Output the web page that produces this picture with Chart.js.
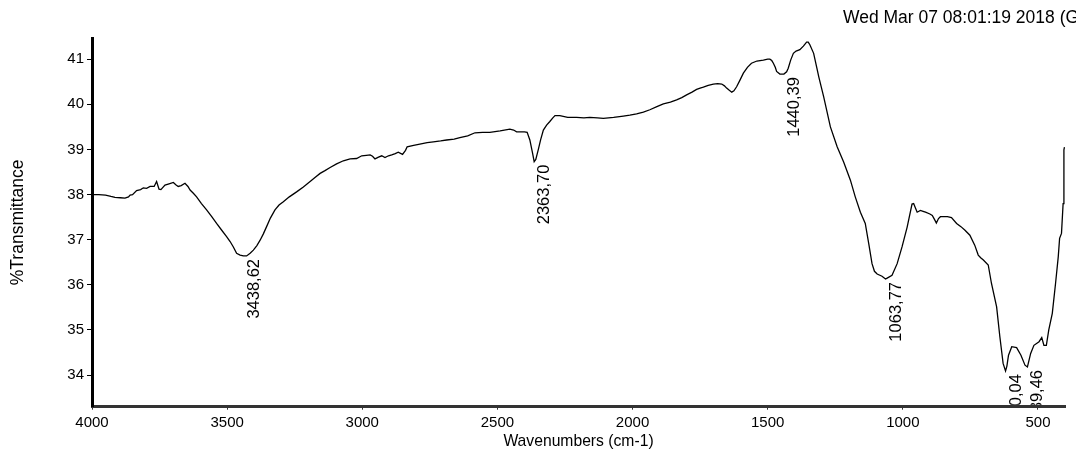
<!DOCTYPE html>
<html>
<head>
<meta charset="utf-8">
<script src="https://cdn.jsdelivr.net/npm/chart.js@4/dist/chart.umd.min.js"></script>
<style>
html,body{margin:0;padding:0;background:#fff;}
#wrap{width:1076px;height:458px;}
</style>
</head>
<body>
<div id="wrap"><canvas id="c" width="1076" height="458"></canvas></div>
<script>
// ---- data ----
const wavenumbers = [4000,3975,3950,3930,3915,3895,3878,3865,3859,3850,3835,3820,3810,3798,3785,3770,3761,3752,3745,3730,3715,3699,3690,3681,3670,3656,3645,3637,3625,3613,3595,3576,3557,3539,3520,3502,3489,3477,3465,3452,3440,3428,3415,3403,3390,3378,3366,3354,3340,3323,3308,3292,3270,3243,3218,3193,3175,3156,3138,3119,3095,3070,3045,3021,3002,2985,2971,2962,2953,2940,2928,2916,2903,2891,2878,2867,2851,2840,2834,2810,2787,2760,2737,2710,2688,2660,2639,2610,2583,2555,2528,2490,2454,2440,2429,2400,2390,2380,2370,2364,2358,2349,2340,2330,2318,2306,2295,2287,2269,2240,2207,2180,2158,2130,2108,2070,2034,2010,1985,1960,1936,1910,1886,1860,1837,1818,1800,1780,1763,1750,1738,1720,1701,1685,1670,1660,1652,1642,1633,1625,1615,1603,1590,1575,1560,1540,1516,1500,1492,1485,1479,1472,1467,1455,1440,1430,1424,1415,1405,1395,1381,1368,1356,1350,1344,1330,1318,1311,1293,1268,1243,1219,1194,1176,1157,1139,1126,1114,1105,1095,1077,1064,1058,1040,1021,1003,984,966,960,953,947,935,925,916,900,891,883,876,868,861,851,835,820,801,785,770,752,734,721,712,702,684,672,653,641,629,620,615,609,597,579,563,548,539,527,515,496,486,478,469,460,447,435,425,420,413,407,404,402];
const transmittance = [38.00,38.00,37.99,37.96,37.94,37.93,37.92,37.95,37.99,38.00,38.09,38.11,38.15,38.14,38.18,38.18,38.29,38.12,38.11,38.21,38.24,38.27,38.22,38.18,38.20,38.25,38.18,38.10,38.03,37.95,37.80,37.66,37.51,37.36,37.21,37.07,36.96,36.84,36.70,36.66,36.64,36.64,36.70,36.77,36.87,36.99,37.13,37.29,37.48,37.66,37.77,37.84,37.95,38.06,38.17,38.29,38.38,38.47,38.53,38.60,38.68,38.75,38.79,38.80,38.86,38.87,38.88,38.85,38.79,38.83,38.86,38.82,38.86,38.88,38.91,38.94,38.89,38.98,39.06,39.09,39.12,39.15,39.17,39.19,39.21,39.23,39.26,39.30,39.37,39.38,39.38,39.41,39.45,39.43,39.39,39.39,39.38,39.21,38.92,38.73,38.78,38.99,39.22,39.43,39.54,39.62,39.70,39.75,39.75,39.71,39.71,39.70,39.71,39.70,39.69,39.71,39.74,39.76,39.79,39.83,39.88,39.95,40.01,40.05,40.10,40.15,40.21,40.27,40.33,40.36,40.38,40.42,40.45,40.46,40.45,40.41,40.36,40.31,40.27,40.30,40.39,40.53,40.69,40.82,40.91,40.96,40.98,41.00,41.00,40.97,40.91,40.82,40.73,40.67,40.67,40.72,40.80,40.98,41.13,41.18,41.21,41.29,41.38,41.38,41.32,41.13,40.80,40.61,40.17,39.50,39.06,38.72,38.32,37.95,37.61,37.36,36.91,36.47,36.30,36.24,36.19,36.13,36.15,36.21,36.47,36.84,37.28,37.79,37.80,37.70,37.61,37.65,37.63,37.61,37.57,37.54,37.45,37.37,37.47,37.51,37.51,37.51,37.49,37.36,37.29,37.21,37.10,36.88,36.66,36.60,36.55,36.44,36.03,35.51,34.85,34.26,34.09,34.20,34.44,34.63,34.61,34.44,34.22,34.18,34.48,34.66,34.74,34.83,34.66,34.66,35.00,35.37,36.03,36.62,37.03,37.14,37.80,38.99,39.05];
const peakLabels = ["3438,62","2363,70","1440,39","1063,77","620,04","539,46"];
const peakWavenumbers = [3438.62,2363.70,1440.39,1063.77,620.04,539.46];
const peakTransmittance = [36.64,38.73,40.67,36.13,34.09,34.18];
const xTickValues = [4000,3500,3000,2500,2000,1500,1000,500];
const yTickValues = [34,35,36,37,38,39,40,41];
const stampText = "Wed Mar 07 08:01:19 2018 (GMT+07:00)";
const xTitle = "Wavenumbers (cm-1)";
const yTitle = "%Transmittance";

const FONT = "'Liberation Sans', Arial, sans-serif";
const points = wavenumbers.map((w, i) => ({x: w, y: transmittance[i]}));

const peakPlugin = {
  id: 'peaks',
  afterDatasetsDraw(chart) {
    const {ctx, chartArea, scales} = chart;
    ctx.save();
    ctx.beginPath();
    ctx.rect(chartArea.left, chartArea.top, chartArea.right - chartArea.left, chartArea.bottom - chartArea.top - 2);
    ctx.clip();
    ctx.fillStyle = '#000';
    ctx.font = "16.5px " + FONT;
    ctx.textAlign = 'right';
    ctx.textBaseline = 'middle';
    peakLabels.forEach((t, i) => {
      const x = scales.x.getPixelForValue(peakWavenumbers[i]);
      const y = scales.y.getPixelForValue(peakTransmittance[i]);
      ctx.save();
      ctx.translate(x + 10.5, y + 3);
      ctx.rotate(-Math.PI / 2);
      ctx.fillText(t, 0, 0);
      ctx.restore();
    });
    ctx.restore();
  },
  afterDraw(chart) {
    const {ctx} = chart;
    ctx.save();
    ctx.fillStyle = '#000';
    ctx.font = "17.5px " + FONT;
    ctx.textAlign = 'left';
    ctx.textBaseline = 'middle';
    ctx.fillText(stampText, 843, 18);
    ctx.restore();
  }
};

new Chart(document.getElementById('c'), {
  type: 'line',
  data: {
    datasets: [{
      data: points,
      borderColor: '#000',
      borderWidth: 1.3,
      pointRadius: 0,
      tension: 0,
      fill: false
    }]
  },
  options: {
    responsive: false,
    animation: false,
    events: [],
    layout: {padding: {top: 38, right: 11, left: 0, bottom: 0}},
    plugins: {legend: {display: false}, tooltip: {enabled: false}},
    scales: {
      x: {
        type: 'linear',
        reverse: true,
        min: 400,
        max: 4000,
        afterFit(s) { s.height = 51.3; },
        afterBuildTicks(s) { s.ticks = xTickValues.map(v => ({value: v})); },
        border: {display: true, width: 3, color: '#333'},
        grid: {drawOnChartArea: false, drawTicks: true, tickLength: 3, tickColor: '#333'},
        ticks: {color: '#000', font: {family: FONT, size: 15}, padding: 4, maxRotation: 0, autoSkip: false, callback: v => String(v)},
        title: {display: true, text: xTitle, color: '#000', font: {family: FONT, size: 15.7}, padding: {top: 0, bottom: 6.5}}
      },
      y: {
        type: 'linear',
        min: 33.3,
        max: 41.47,
        afterFit(s) { s.width = 92; },
        afterBuildTicks(s) { s.ticks = yTickValues.map(v => ({value: v})); },
        border: {display: true, width: 3, color: '#000'},
        grid: {drawOnChartArea: false, drawTicks: true, tickLength: 5, tickColor: '#000'},
        ticks: {color: '#000', font: {family: FONT, size: 15}, padding: 3, autoSkip: false, callback: v => String(v)},
        title: {display: true, text: yTitle, color: '#000', font: {family: FONT, size: 17.5}, padding: {top: 7.5, bottom: 0}}
      }
    }
  },
  plugins: [peakPlugin]
});
</script>
</body>
</html>
